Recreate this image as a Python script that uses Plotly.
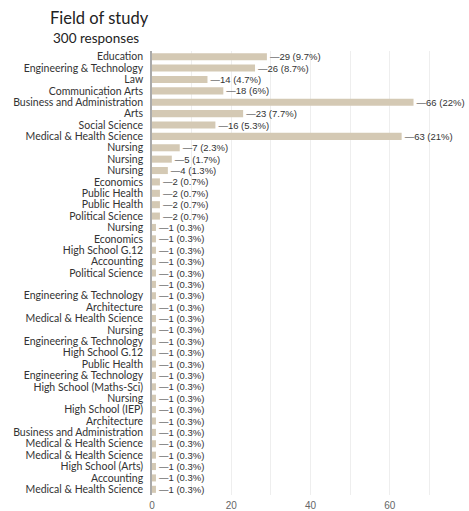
import plotly.graph_objects as go

# Responses per field of study, in questionnaire order (top to bottom)
fields = [
    "Education", "Engineering & Technology", "Law", "Communication Arts",
    "Business and Administration", "Arts", "Social Science",
    "Medical & Health Science", "Nursing", "Nursing", "Nursing", "Economics",
    "Public Health", "Public Health", "Political Science", "Nursing",
    "Economics", "High School G.12", "Accounting", "Political Science", "",
    "Engineering & Technology", "Architecture", "Medical & Health Science",
    "Nursing", "Engineering & Technology", "High School G.12", "Public Health",
    "Engineering & Technology", "High School (Maths-Sci)", "Nursing",
    "High School (IEP)", "Architecture", "Business and Administration",
    "Medical & Health Science", "Medical & Health Science",
    "High School (Arts)", "Accounting", "Medical & Health Science",
]
counts = [29, 26, 14, 18, 66, 23, 16, 63, 7, 5, 4, 2, 2, 2, 2] + [1] * 24
percents = ["9.7%", "8.7%", "4.7%", "6%", "22%", "7.7%", "5.3%", "21%",
            "2.3%", "1.7%", "1.3%", "0.7%", "0.7%", "0.7%", "0.7%"] + ["0.3%"] * 24

rows = list(range(len(fields)))
labels = [f"\u2014{c} ({p})" for c, p in zip(counts, percents)]

W, H = 469, 511
ML, MT, MB = 152, 51, 16

fig = go.Figure(go.Bar(
    x=counts, y=rows, orientation="h",
    marker=dict(color="#d4c9b4", line=dict(width=0)),
    width=0.62,
    text=labels, textposition="outside", cliponaxis=False,
    constraintext="none",
    textfont=dict(family="Liberation Sans, Arial", size=9.5, color="#333333"),
    hoverinfo="skip",
))

fig.update_layout(
    width=W, height=H,
    margin=dict(l=ML, r=0, t=MT, b=MB, autoexpand=False),
    paper_bgcolor="white", plot_bgcolor="white",
    showlegend=False,
    font=dict(family="Lato, Noto Sans, sans-serif", color="#333333"),
    title=dict(
        text="Field of study", xref="container", yref="container",
        x=50 / W, xanchor="left", y=1 - 18 / H, yanchor="middle",
        font=dict(family="Lato, Noto Sans", size=16.5, color="#222222"),
    ),
    annotations=[
        dict(text="300 responses", xref="paper", yref="paper",
             x=0, y=1, xshift=51 - ML, yshift=13, xanchor="left", yanchor="middle",
             showarrow=False, font=dict(family="Lato, Noto Sans", size=13.5, color="#222222")),
    ],
)

fig.update_xaxes(
    range=[0, 80], dtick=20, tick0=0,
    showgrid=True, gridcolor="#eeeeee", gridwidth=1,
    minor=dict(dtick=10, showgrid=True, gridcolor="#eeeeee"),
    zeroline=False, showline=False, ticks="",
    ticklabelstandoff=3,
    tickfont=dict(family="Liberation Sans, Arial", size=10, color="#666666"),
    automargin=False, fixedrange=True,
)
fig.update_yaxes(
    tickmode="array", tickvals=rows, ticktext=fields,
    range=[len(fields) - 0.5, -0.5],
    showgrid=False, zeroline=False,
    showline=True, linecolor="#aaaaaa", linewidth=1.5,
    ticks="", ticklabelstandoff=5,
    tickfont=dict(family="Lato, Noto Sans", size=10.5, color="#333333"),
    automargin=False, fixedrange=True,
)

fig.write_html("out.html")
